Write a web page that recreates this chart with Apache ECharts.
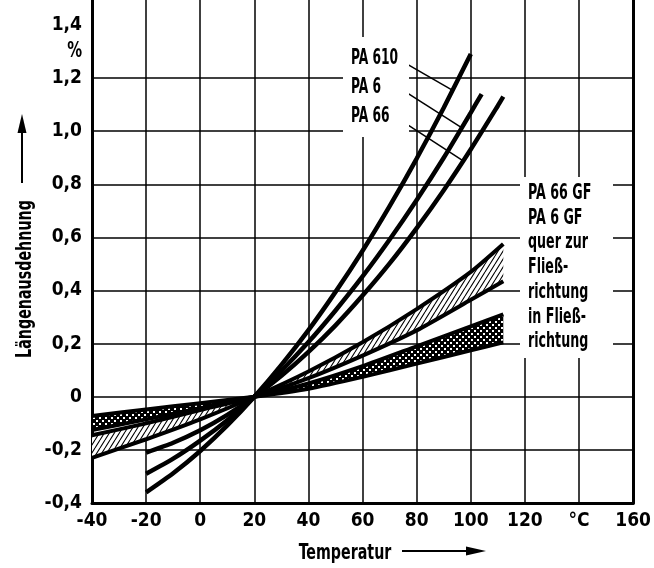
<!DOCTYPE html>
<html><head><meta charset="utf-8">
<script src="https://cdn.jsdelivr.net/npm/echarts@6/dist/echarts.min.js"></script>
<style>html,body{margin:0;padding:0;background:#fff}#c{width:654px;height:568px}</style>
</head><body><div id="c"></div>
<script>
// ---- data ----
const xTickLabels = ['-40','-20','0','20','40','60','80','100','120','°C','160'];
const yTickLabels = ['-0,4','-0,2','0','0,2','0,4','0,6','0,8','1,0','1,2','1,4'];

const tPA610 = [-20,-10,0,10,20,30,40,50,60,70,80,90,100];
const vPA610 = [-0.36,-0.288,-0.204,-0.108,0,0.12,0.251,0.395,0.55,0.718,0.897,1.088,1.291];
const tPA6 = [-20,-10,0,10,20,30,40,50,60,70,80,90,100,104];
const vPA6 = [-0.29,-0.233,-0.165,-0.088,0,0.098,0.206,0.325,0.453,0.592,0.741,0.9,1.07,1.14];
const tPA66 = [-20,-10,0,10,20,30,40,50,60,70,80,90,100,110,112];
const vPA66 = [-0.21,-0.173,-0.126,-0.068,0,0.079,0.169,0.269,0.381,0.502,0.635,0.778,0.932,1.096,1.13];

// glass-fibre grades: band boundaries
const tGF = [-40,-20,0,20,40,60,80,100,112];
const querA = [-0.23,-0.16,-0.085,0,0.095,0.205,0.33,0.47,0.575];
const querB = [-0.145,-0.1,-0.05,0,0.07,0.155,0.25,0.365,0.435];
const inA = [-0.125,-0.085,-0.043,0,0.05,0.115,0.19,0.265,0.31];
const inB = [-0.072,-0.048,-0.024,0,0.03,0.075,0.125,0.175,0.205];

// ---- helpers ----
const FAM = "'DejaVu Sans Condensed','DejaVu Sans',sans-serif";
const zip = (xs, ys) => xs.map((x, i) => [x, ys[i]]);

function hatchPattern() {
  const c = document.createElement('canvas'); c.width = 5; c.height = 8;
  const g = c.getContext('2d');
  g.fillStyle = '#fff'; g.fillRect(0, 0, 5, 8);
  g.strokeStyle = '#000'; g.lineWidth = 1.1;
  g.beginPath();
  g.moveTo(0, 8); g.lineTo(5, 0);
  g.moveTo(-5, 8); g.lineTo(0, 0);
  g.moveTo(5, 8); g.lineTo(10, 0);
  g.stroke();
  return c;
}
function dotPattern() {
  const c = document.createElement('canvas'); c.width = 6; c.height = 6;
  const g = c.getContext('2d');
  g.fillStyle = '#000'; g.fillRect(0, 0, 6, 6);
  g.fillStyle = '#fff';
  g.fillRect(0, 0, 2, 2); g.fillRect(3, 3, 2, 2);
  return c;
}

function band(name, xs, a, b, pat) {
  return {
    type: 'custom', name, coordinateSystem: 'cartesian2d', data: [[20, 0]], z: 2, silent: true,
    renderItem: (params, api) => {
      const pts = [];
      xs.forEach((x, i) => pts.push(api.coord([x, a[i]])));
      for (let i = xs.length - 1; i >= 0; i--) pts.push(api.coord([xs[i], b[i]]));
      return { type: 'polygon', shape: { points: pts }, style: { fill: { image: pat, repeat: 'repeat' }, stroke: null } };
    }
  };
}
function curve(name, xs, ys, w, extra) {
  return Object.assign({
    type: 'line', name, data: zip(xs, ys), symbol: 'none', smooth: 0.2, z: 4, silent: true,
    lineStyle: { color: '#000', width: w }, itemStyle: { color: '#000' }
  }, extra || {});
}
function leader(from, to) {
  return { symbol: 'none', silent: true, label: { show: false },
    lineStyle: { color: '#000', width: 1.5, type: 'solid' },
    data: [[{ coord: from }, { coord: to }]] };
}
// narrow technical lettering: real text, horizontally compressed
function txt(text, x, y, opt) {
  opt = opt || {};
  return { type: 'text', z: 100, x, y, scaleX: opt.sx || 0.7, rotation: opt.rot || 0,
    style: { text, x: 0, y: 0, textAlign: opt.align || 'left', textVerticalAlign: opt.valign || 'middle',
      lineHeight: opt.lh, font: 'bold ' + (opt.size || 22) + 'px ' + FAM, fill: '#000' } };
}

const yMin = -0.4, yStep = 0.2, yTop = 1.494;
const yLabel = (v) => {
  const i = Math.round((v - yMin) / yStep);
  return Math.abs(v - (yMin + i * yStep)) < 1e-6 && i < yTickLabels.length ? yTickLabels[i] : '';
};
const gridColors = yTickLabels.map((s, i) => i === yTickLabels.length - 1 ? 'rgba(0,0,0,0)' : '#000');

const chart = echarts.init(document.getElementById('c'), null, { renderer: 'canvas' });
const axisLabelStyle = { color: '#000', fontSize: 19, fontWeight: 'bold', fontFamily: FAM };

chart.setOption({
  animation: false,
  backgroundColor: '#fff',
  grid: { left: 92, right: 15, top: 0, bottom: 65, containLabel: false },
  xAxis: {
    type: 'value', min: -40, max: 160, interval: 20,
    axisLine: { show: true, onZero: false, lineStyle: { color: '#000', width: 3 } },
    axisTick: { show: false },
    splitLine: { show: true, lineStyle: { color: '#000', width: 1.5 } },
    axisLabel: Object.assign({ margin: 9, formatter: (v) => xTickLabels[Math.round((v + 40) / 20)] }, axisLabelStyle)
  },
  yAxis: [{
    type: 'value', min: yMin, max: yTop, interval: yStep,
    axisLine: { show: true, onZero: false, lineStyle: { color: '#000', width: 3 } },
    axisTick: { show: false },
    splitLine: { show: true, showMaxLine: false, lineStyle: { color: gridColors, width: 1.5 } },
    axisLabel: Object.assign({ margin: 10, showMaxLabel: true, formatter: yLabel }, axisLabelStyle)
  }, {
    type: 'value', min: yMin, max: yTop, interval: yStep, position: 'right',
    axisLine: { show: true, onZero: false, lineStyle: { color: '#000', width: 3 } },
    axisTick: { show: false }, axisLabel: { show: false }, splitLine: { show: false }
  }],
  series: [
    band('quer zur Fließrichtung', tGF, querA, querB, hatchPattern()),
    band('in Fließrichtung', tGF, inA, inB, dotPattern()),
    curve('querA', tGF, querA, 4),
    curve('querB', tGF, querB, 4),
    curve('inA', tGF, inA, 4),
    curve('inB', tGF, inB, 4),
    curve('PA 610', tPA610, vPA610, 4.5, { markLine: leader([75, 1.261], [93.3, 1.154]) }),
    curve('PA 6', tPA6, vPA6, 4.5, { markLine: leader([75, 1.154], [96.3, 1.015]) }),
    curve('PA 66', tPA66, vPA66, 4.5, { markLine: leader([75, 1.035], [96.9, 0.89]) })
  ],
  graphic: [
    txt('%', 82, 51, { align: 'right', sx: 0.75 }),
    { type: 'rect', z: 90, shape: { x: 343, y: 37, width: 66, height: 100 }, style: { fill: '#fff' } },
    txt('PA 610\nPA 6\nPA 66', 351, 44, { valign: 'top', lh: 29, sx: 0.62 }),
    { type: 'rect', z: 90, shape: { x: 520, y: 177, width: 93, height: 181 }, style: { fill: '#fff' } },
    txt('PA 66 GF\nPA 6 GF\nquer zur\nFließ-\nrichtung\nin Fließ-\nrichtung', 528, 181, { valign: 'top', lh: 24.7, sx: 0.64 }),
    txt('Temperatur', 345, 553, { align: 'center', sx: 0.72 }),
    { type: 'line', z: 100, shape: { x1: 402, y1: 551, x2: 472, y2: 551 }, style: { stroke: '#000', lineWidth: 2 } },
    { type: 'polygon', z: 100, shape: { points: [[486, 551], [466, 546.5], [466, 555.5]] }, style: { fill: '#000' } },
    { type: 'text', z: 100, rotation: Math.PI / 2, x: 25, y: 279, scaleX: 0.72,
      style: { text: 'Längenausdehnung', x: 0, y: 0, textAlign: 'center', textVerticalAlign: 'middle', font: 'bold 22px ' + FAM, fill: '#000' } },
    { type: 'line', z: 100, shape: { x1: 22, y1: 183, x2: 22, y2: 128 }, style: { stroke: '#000', lineWidth: 2 } },
    { type: 'polygon', z: 100, shape: { points: [[22, 114], [17.5, 133], [26.5, 133]] }, style: { fill: '#000' } }
  ]
});
</script>
</body></html>
